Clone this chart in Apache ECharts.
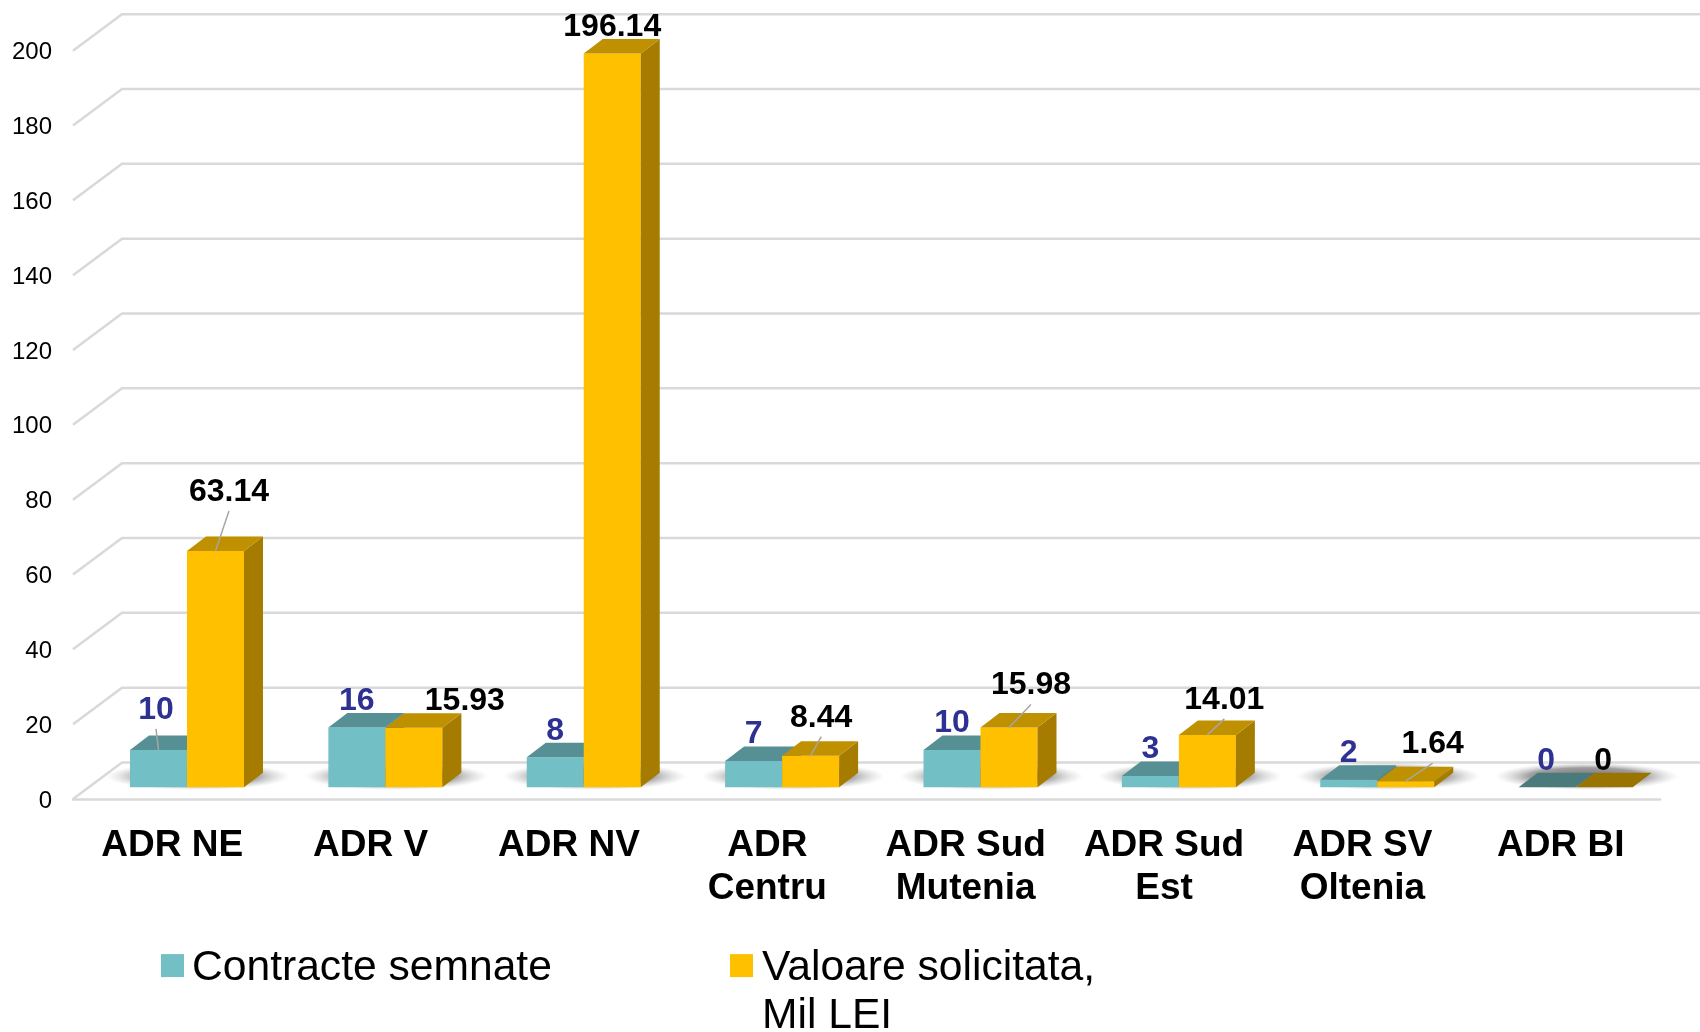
<!DOCTYPE html>
<html>
<head>
<meta charset="utf-8">
<style>html,body{margin:0;padding:0;background:#fff;overflow:hidden}#c{width:1700px;height:1032px}</style>
<script src="https://cdn.jsdelivr.net/npm/echarts@6/dist/echarts.min.js"></script>
</head>
<body>
<div id="c"></div>
<script>
const categories = ['ADR NE', 'ADR V', 'ADR NV', 'ADR\nCentru', 'ADR Sud\nMutenia', 'ADR Sud\nEst', 'ADR SV\nOltenia', 'ADR BI'];
const contracteSemnate = [10, 16, 8, 7, 10, 3, 2, 0];
const valoareSolicitata = [63.14, 15.93, 196.14, 8.44, 15.98, 14.01, 1.64, 0];
const yTicks = [0, 20, 40, 60, 80, 100, 120, 140, 160, 180, 200];

const NAME_A = 'Contracte semnate';
const NAME_B = 'Valoare solicitata,';
const NAME_B_LINE2 = 'Mil LEI';

// Layout of the pseudo-3D drawing (pixels)
const FONT = '"Liberation Sans", Arial, sans-serif';
const WALL_DX = 49, WALL_DY = -36.5;      // front plane to back wall
const BAR_DX = 19, BAR_DY = -14.5;        // bar depth
const BAR_W = 57;                          // bar width
const GROUP_SHIFT = 14.8;                  // group centre relative to band centre
const FLOOR_LIFT = -11.7;                  // bar base above front axis line
const GRID = '#d9d9d9';
const LEGEND_FONT = 42.6;

// Manually placed data labels: [dx, dy, hasLeader] from the top centre of the bar's front face
const DEFAULT_NUDGE = [0, -26.5, false];
const nudgeA = {0: [-2.5, -40, true], 7: [-1, -26.5, false]};
const nudgeB = {
  0: [13.5, -59, true], 1: [51, -27, false], 3: [10.6, -38, true],
  4: [22, -42, true], 5: [17, -35, true], 6: [27, -37, true], 7: [-1, -26.5, false]
};

function poly(points, fill, z2) {
  return {type: 'polygon', shape: {points}, style: {fill, stroke: null}, z2: z2 || 0};
}

function barRender(side, colors, labelColor, nudges) {
  return function (params, api) {
    const i = api.value(0), v = api.value(1);
    const top = api.coord([i, v]), base = api.coord([i, 0]);
    const cx = base[0] + GROUP_SHIFT;
    const x0 = side === 0 ? cx - BAR_W : cx;
    const x1 = x0 + BAR_W;
    const yT = top[1] + FLOOR_LIFT, yB = base[1] + FLOOR_LIFT;
    const children = [];
    if (v > 0) {
      children.push(poly([[x0, yT], [x1, yT], [x1, yB], [x0, yB]], colors.front));
      children.push(poly([[x1, yT], [x1 + BAR_DX, yT + BAR_DY], [x1 + BAR_DX, yB + BAR_DY], [x1, yB]], colors.side));
    }
    children.push(poly([[x0, yT], [x1, yT], [x1 + BAR_DX, yT + BAR_DY], [x0 + BAR_DX, yT + BAR_DY]], v > 0 ? colors.top : colors.zero));
    const n = nudges[i] || DEFAULT_NUDGE;
    const mid = (x0 + x1) / 2;
    const lx = mid + n[0], ly = yT + n[1];
    if (n[2]) {
      children.push({type: 'line', shape: {x1: mid, y1: yT, x2: lx, y2: ly + 19},
        style: {stroke: '#a6a6a6', lineWidth: 1.5}, z2: 5});
    }
    children.push({type: 'text', z2: 6, style: {
      x: lx, y: ly, text: String(v), align: 'center', verticalAlign: 'middle',
      font: 'bold 32px ' + FONT, fill: labelColor
    }});
    return {type: 'group', children};
  };
}

function legendCfg(left, name, textPad) {
  return {
    left, top: 946.6, padding: 0, data: [{name, icon: 'rect'}], itemWidth: 23, itemHeight: 23, itemGap: 0,
    selectedMode: false,
    formatter: n => '{t|' + n + '}',
    textStyle: {color: '#000', rich: {t: {fontFamily: FONT, fontSize: LEGEND_FONT, color: '#000', padding: [5, 0, 0, textPad]}}}
  };
}

const option = {
  animation: false,
  backgroundColor: '#fff',
  grid: {left: 73, right: 40, top: 50.7, bottom: 233, containLabel: false},
  xAxis: {
    type: 'category', data: categories,
    axisTick: {show: false},
    axisLine: {show: true, lineStyle: {color: GRID, width: 2.5}},
    axisLabel: {interval: 0, color: '#000', fontFamily: FONT, fontWeight: 'bold', fontSize: 37, lineHeight: 43, margin: 25, hideOverlap: false}
  },
  yAxis: {
    type: 'value', min: 0, max: 200, interval: 20,
    axisLine: {show: false}, axisTick: {show: false}, splitLine: {show: false},
    axisLabel: {color: '#000', fontFamily: FONT, fontSize: 24, margin: 21, verticalAlign: 'top', lineHeight: 4}
  },
  legend: [legendCfg(161, NAME_A, 3), legendCfg(730, NAME_B, 4)],
  graphic: [{type: 'text', left: 762, top: 994.5, silent: true,
    style: {text: NAME_B_LINE2, font: LEGEND_FONT + 'px ' + FONT, fill: '#000'}}],
  series: [
    { // back wall and side wall grid lines
      type: 'custom', silent: true, data: yTicks.map(t => [0, t]),
      encode: {x: 0, y: 1},
      renderItem(params, api) {
        const y = api.coord([0, api.value(1)])[1];
        const x = params.coordSys.x;
        return {type: 'polyline', shape: {points: [[x, y], [x + WALL_DX, y + WALL_DY], [1700, y + WALL_DY]]},
          style: {stroke: GRID, lineWidth: 2.5, fill: null}};
      }
    },
    { // soft floor shadows
      type: 'custom', silent: true, data: categories.map((c, i) => [i, 0]),
      encode: {x: 0, y: 1},
      renderItem(params, api) {
        const c = api.coord([api.value(0), 0]);
        return {type: 'circle', x: c[0] + GROUP_SHIFT + 11, y: c[1] + FLOOR_LIFT - 11, scaleY: 0.15,
          shape: {cx: 0, cy: 0, r: 92},
          style: {fill: new echarts.graphic.RadialGradient(0.5, 0.5, 0.5, [
            {offset: 0, color: 'rgba(110,110,110,0.95)'},
            {offset: 0.62, color: 'rgba(125,125,125,0.75)'},
            {offset: 0.82, color: 'rgba(160,160,160,0.35)'},
            {offset: 1, color: 'rgba(190,190,190,0)'}
          ])}};
      }
    },
    {
      name: NAME_A, type: 'custom', itemStyle: {color: '#73BFC6'},
      data: contracteSemnate.map((v, i) => [i, v]), encode: {x: 0, y: 1},
      renderItem: barRender(0, {front: '#73BFC6', top: '#568F94', side: '#4F8388', zero: '#4A7A7C'}, '#2E3192', nudgeA)
    },
    {
      name: NAME_B, type: 'custom', itemStyle: {color: '#FFC000'},
      data: valoareSolicitata.map((v, i) => [i, v]), encode: {x: 0, y: 1},
      renderItem: barRender(1, {front: '#FFC000', top: '#BF9000', side: '#A67C00', zero: '#9A7400'}, '#000', nudgeB)
    }
  ]
};
echarts.init(document.getElementById('c'), null, {renderer: 'canvas'}).setOption(option);
</script>
</body>
</html>
